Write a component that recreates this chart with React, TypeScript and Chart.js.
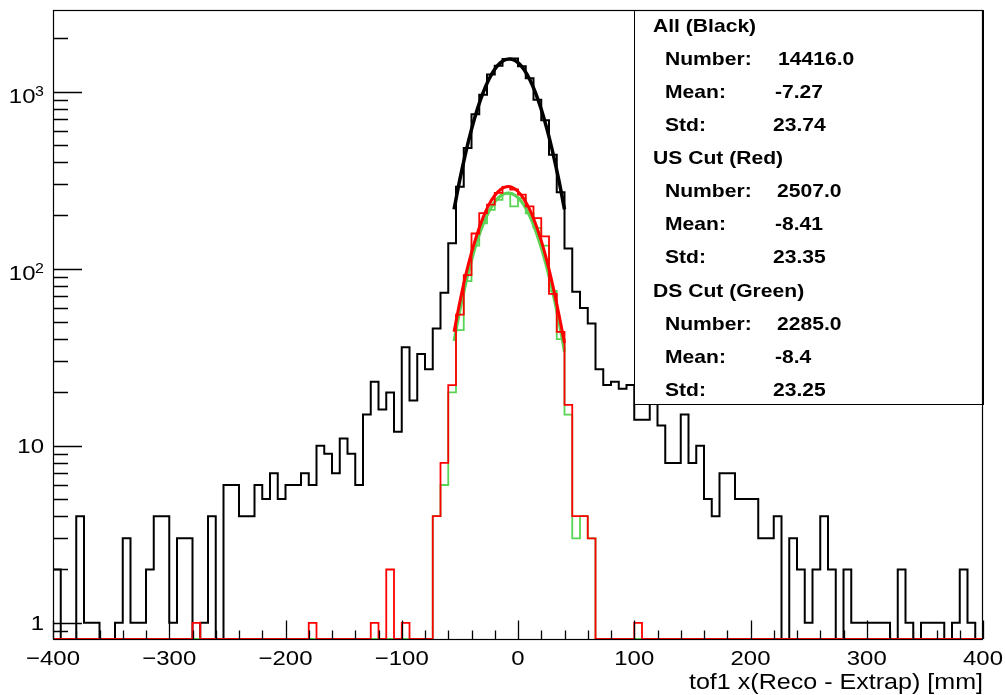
import React, { useEffect, useRef } from "react";
import { Chart, registerables } from "chart.js";

Chart.register(...registerables);

// ---------------- data ----------------
const BIN_LOW = -400;
const BIN_HIGH = 400;
const N_BINS = 120;

// All (Black) histogram counts, 120 bins of 6.67 mm from -400 to 400
const allCounts = [
  2, 0, 0, 4, 1, 1, 0, 0, 1, 3, 1, 1, 2, 4, 4, 1, 3, 3, 0, 1, 4,
  0, 6, 6, 4, 4, 6, 5, 7, 5, 6, 6, 7, 6, 10, 9, 7, 11, 9, 6, 15, 23, 16, 20, 12, 36, 18, 33, 27, 46, 73, 139,
  290, 480, 745, 960, 1250, 1400, 1530, 1540, 1390, 1190, 900, 690, 440, 270,
  130, 74, 60, 49, 27, 22, 23, 21, 22, 14, 14, 20, 13, 8, 8, 15, 8, 10, 5, 4, 7, 7, 5, 5, 5, 3, 3, 4, 0, 3,
  2, 1, 2, 4, 2, 0, 2, 1, 1, 1, 1, 1, 0, 2, 1, 0, 1, 1, 1, 0, 1, 2, 1, 0,
];

// US Cut (Red) histogram counts
const usCounts = [
  0, 0, 0, 0, 0, 0, 0, 0, 0, 0, 0, 0, 0, 0, 0, 0, 0, 0, 1, 0, 0,
  0, 0, 0, 0, 0, 0, 0, 0, 0, 0, 0, 0, 1, 0, 0, 0, 0, 0, 0, 0, 1, 0, 2, 0, 1, 0, 0, 0, 4, 8, 22,
  55, 92, 158, 206, 230, 268, 290, 280, 262, 225, 193, 152, 72, 44,
  17, 4, 4, 3, 0, 0, 0, 0, 0, 1, 0, 0, 0, 0, 0, 0, 0, 0, 0, 0, 0, 0, 0, 0, 0, 0, 0, 0, 0, 0,
  0, 0, 0, 0, 0, 0, 0, 0, 0, 0, 0, 0, 0, 0, 0, 0, 0, 0, 0, 0, 0, 0, 0, 0,
];

// DS Cut (Green) histogram counts
const dsCounts = [
  0, 0, 0, 0, 0, 0, 0, 0, 0, 0, 0, 0, 0, 0, 0, 0, 0, 0, 0, 0, 0,
  0, 0, 0, 0, 0, 0, 0, 0, 0, 0, 0, 0, 0, 0, 0, 0, 0, 0, 0, 0, 0, 0, 0, 0, 0, 0, 0, 0, 4, 6, 20,
  45, 85, 135, 180, 215, 245, 265, 225, 250, 205, 170, 135, 75, 40,
  15, 3, 4, 3, 0, 0, 0, 0, 0, 0, 0, 0, 0, 0, 0, 0, 0, 0, 0, 0, 0, 0, 0, 0, 0, 0, 0, 0, 0, 0,
  0, 0, 0, 0, 0, 0, 0, 0, 0, 0, 0, 0, 0, 0, 0, 0, 0, 0, 0, 0, 0, 0, 0, 0,
];

// Fit curves
const fitX = [-55, -50, -45, -40, -35, -30, -25, -20, -15, -10, -5, 0, 5, 10, 15, 20, 25, 30, 35, 40];
const allFit = [216, 319, 451, 612, 794, 986, 1173, 1336, 1457, 1522, 1522, 1457, 1336, 1173, 986, 794, 612, 451, 319, 216];
const usFit = [44, 65, 92, 123, 158, 195, 230, 259, 280, 290, 288, 273, 248, 216, 180, 144, 110, 80, 56, 38];
const dsFit = [39, 58, 82, 111, 144, 178, 210, 238, 258, 267, 265, 252, 229, 199, 165, 131, 100, 73, 51, 34];

// Axes
const xTickValues = [-400, -300, -200, -100, 0, 100, 200, 300, 400];
const xTickLabels = ["\u2212400", "\u2212300", "\u2212200", "\u2212100", "0", "100", "200", "300", "400"];
const xMinorStep = 20;
const yTickValues = [1, 10, 100, 1000];
const yTickBases = ["1", "10", "10", "10"];
const yTickExps = ["", "", "2", "3"];
const yMin = 0.81;
const yMax = 2890;
const xTitle = "tof1 x(Reco - Extrap) [mm]";

// Stats box
const statTitles = ["All (Black)", "US Cut (Red)", "DS Cut (Green)"];
const statNumbers = ["14416.0", "2507.0", "2285.0"];
const statMeans = ["-7.27", "-8.41", "-8.4"];
const statStds = ["23.74", "23.35", "23.25"];

// ---------------- helpers ----------------
const edges: number[] = [];
for (let i = 0; i <= N_BINS; i++) edges.push(BIN_LOW + ((BIN_HIGH - BIN_LOW) * i) / N_BINS);

// empty bins sit on the bottom of the frame, as ROOT draws them on a log axis
function histPoints(counts: number[]) {
  const pts = counts.map((c, i) => ({ x: edges[i], y: c > 0 ? c : yMin }));
  const last = counts[counts.length - 1];
  pts.push({ x: BIN_HIGH, y: last > 0 ? last : yMin });
  return pts;
}
function fitPoints(vals: number[]) {
  return fitX.map((x, i) => ({ x, y: vals[i] }));
}

const FONT = '"Liberation Sans", Arial, Helvetica, sans-serif';
const SX = 1.14;

function drawText(ctx: CanvasRenderingContext2D, text: string, x: number, y: number, align: CanvasTextAlign, font: string) {
  ctx.save();
  ctx.translate(x, y);
  ctx.scale(SX, 1);
  ctx.font = font;
  ctx.textAlign = align;
  ctx.textBaseline = "alphabetic";
  ctx.fillStyle = "#000";
  ctx.fillText(text, 0, 0);
  ctx.restore();
}

const rootAxesPlugin = {
  id: "rootAxes",
  afterDatasetsDraw(chart: any) {
    const ctx: CanvasRenderingContext2D = chart.ctx;
    const { left, right, top, bottom } = chart.chartArea;
    const xs = chart.scales.x;
    const ys = chart.scales.y;
    ctx.save();

    // stats box
    const bx0 = 634, by0 = top, bx1 = right, by1 = 404;
    ctx.fillStyle = "#fff";
    ctx.fillRect(bx0, by0, bx1 - bx0, by1 - by0);
    ctx.strokeStyle = "#000";
    ctx.lineWidth = 1;
    ctx.strokeRect(bx0 + 0.5, by0 + 0.5, bx1 - bx0, by1 - by0);

    const boldFont = `bold 18.5px ${FONT}`;
    let k = 0;
    const lineY = (n: number) => 31.7 + n * 33.1;
    for (let g = 0; g < statTitles.length; g++) {
      drawText(ctx, statTitles[g], 653, lineY(k++), "left", boldFont);
      drawText(ctx, "Number:", 665, lineY(k), "left", boldFont);
      drawText(ctx, statNumbers[g], g === 0 ? 778 : 777, lineY(k++), "left", boldFont);
      drawText(ctx, "Mean:", 665, lineY(k), "left", boldFont);
      drawText(ctx, statMeans[g], 775, lineY(k++), "left", boldFont);
      drawText(ctx, "Std:", 665, lineY(k), "left", boldFont);
      drawText(ctx, statStds[g], 773, lineY(k++), "left", boldFont);
    }

    // frame
    ctx.strokeStyle = "#000";
    ctx.lineWidth = 1.2;
    ctx.strokeRect(left + 0.5, top + 0.5, right - left - 1, bottom - top);

    // y ticks (inward)
    ctx.lineWidth = 1.3;
    ctx.beginPath();
    for (let d = -1; d <= 3; d++) {
      for (let m = 1; m <= 9; m++) {
        const v = m * Math.pow(10, d);
        if (v < yMin || v > yMax) continue;
        const py = Math.round(ys.getPixelForValue(v)) + 0.5;
        const len = m === 1 ? 29 : 15;
        ctx.moveTo(left, py);
        ctx.lineTo(left + len, py);
      }
    }
    // x ticks (inward)
    for (let v = BIN_LOW; v <= BIN_HIGH; v += xMinorStep) {
      const px = Math.round(xs.getPixelForValue(v)) + 0.5;
      const len = v % 100 === 0 ? 18.5 : 8.5;
      ctx.moveTo(px, bottom);
      ctx.lineTo(px, bottom - len);
    }
    ctx.stroke();

    // x tick labels
    const labFont = `21px ${FONT}`;
    xTickValues.forEach((v, i) => {
      drawText(ctx, xTickLabels[i], xs.getPixelForValue(v), 665, "center", labFont);
    });

    // y tick labels
    yTickValues.forEach((v, i) => {
      const py = ys.getPixelForValue(v);
      if (yTickExps[i]) {
        drawText(ctx, yTickExps[i], 44, py + 4, "right", `14px ${FONT}`);
        drawText(ctx, yTickBases[i], 35.5, py + 11, "right", labFont);
      } else {
        drawText(ctx, yTickBases[i], 44, py + 7.5, "right", labFont);
      }
    });

    // x title
    drawText(ctx, xTitle, right, 689, "right", `22px ${FONT}`);

    ctx.restore();
  },
};

export default function App() {
  const canvasRef = useRef<HTMLCanvasElement | null>(null);

  useEffect(() => {
    const canvas = canvasRef.current;
    if (!canvas) return;
    const GREEN = "#59d454";
    const chart = new Chart(canvas, {
      type: "line",
      data: {
        datasets: [
          { label: "All", data: histPoints(allCounts), borderColor: "#000", borderWidth: 2, stepped: "before", pointRadius: 0, fill: false, order: 6 },
          { label: "All fit", data: fitPoints(allFit), borderColor: "#000", borderWidth: 3.5, tension: 0.4, pointRadius: 0, fill: false, order: 5 },
          { label: "DS", data: histPoints(dsCounts), borderColor: GREEN, borderWidth: 1.8, stepped: "before", pointRadius: 0, fill: false, order: 4 },
          { label: "DS fit", data: fitPoints(dsFit), borderColor: GREEN, borderWidth: 3, tension: 0.4, pointRadius: 0, fill: false, order: 3 },
          { label: "US", data: histPoints(usCounts), borderColor: "#ff0000", borderWidth: 1.8, stepped: "before", pointRadius: 0, fill: false, order: 2 },
          { label: "US fit", data: fitPoints(usFit), borderColor: "#ff0000", borderWidth: 3, tension: 0.4, pointRadius: 0, fill: false, order: 1 },
        ] as any,
      },
      options: {
        responsive: false,
        animation: false,
        devicePixelRatio: 1,
        events: [],
        layout: { padding: { left: 53, right: 22, top: 10, bottom: 56 } },
        plugins: { legend: { display: false }, tooltip: { enabled: false } },
        scales: {
          x: { type: "linear", min: BIN_LOW, max: BIN_HIGH, display: false },
          y: { type: "logarithmic", min: yMin, max: yMax, display: false },
        },
      } as any,
      plugins: [rootAxesPlugin],
    });
    return () => chart.destroy();
  }, []);

  return (
    <div style={{ position: "absolute", left: 0, top: 0, width: 1005, height: 695, background: "#fff" }}>
      <canvas ref={canvasRef} width={1005} height={695} style={{ display: "block" }} />
    </div>
  );
}
